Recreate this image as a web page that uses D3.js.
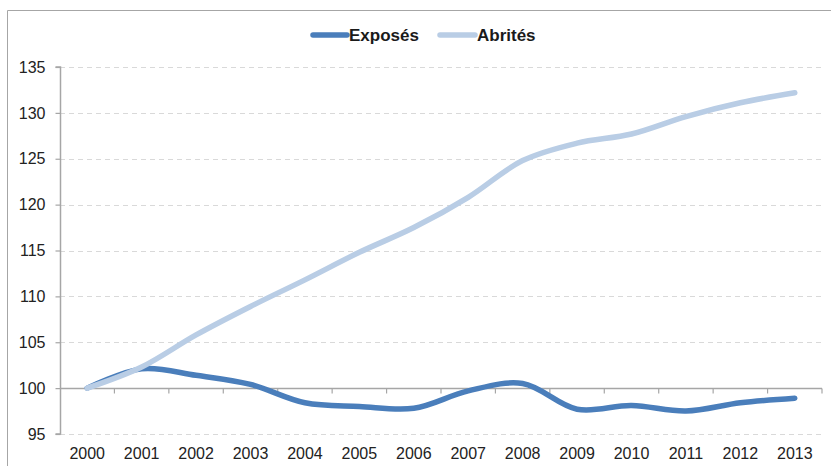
<!DOCTYPE html>
<html>
<head>
<meta charset="utf-8">
<script src="https://cdn.jsdelivr.net/npm/d3@7"></script>
<style>
  html, body { margin: 0; padding: 0; background: #fff; }
  svg { display: block; font-family: "Liberation Sans", Arial, sans-serif; }
</style>
</head>
<body>
<svg id="chart" width="831" height="466"></svg>
<script>
const years = ["2000","2001","2002","2003","2004","2005","2006","2007","2008","2009","2010","2011","2012","2013"];
const exposes = [100, 102.1, 101.4, 100.4, 98.4, 98.0, 97.8, 99.7, 100.5, 97.7, 98.1, 97.5, 98.4, 98.9];
const abrites = [100, 102.3, 105.8, 108.9, 111.8, 114.8, 117.5, 120.8, 124.8, 126.7, 127.7, 129.6, 131.1, 132.2];
const yTicks = [95, 100, 105, 110, 115, 120, 125, 130, 135];
const seriesNames = ["Exposés", "Abrités"];

(function () {
const svg = d3.select("#chart");
const W = 831, H = 466;
const pLeft = 60, pRight = 822, pTop = 67, pBottom = 434;

// frame
svg.append("path")
  .attr("d", `M7.5,${H} V10.5 H${W}`)
  .attr("fill", "none").attr("stroke", "#a6a6a6").attr("stroke-width", 1);

const x = d3.scaleBand().domain(years).range([pLeft, pRight]).paddingInner(0).paddingOuter(0);
const y = d3.scaleLinear().domain([95, 135]).range([pBottom, pTop]);

// gridlines
svg.append("g").selectAll("line").data(yTicks).join("line")
  .attr("x1", pLeft).attr("x2", pRight)
  .attr("y1", d => Math.round(y(d)) + 0.5).attr("y2", d => Math.round(y(d)) + 0.5)
  .attr("stroke", "#d9d9d9").attr("stroke-width", 1).attr("stroke-dasharray", "5,4");

// y axis
const yAxis = d3.axisLeft(y).tickValues(yTicks).tickSize(5).tickPadding(10).tickFormat(d3.format("d"));
const gy = svg.append("g").attr("transform", `translate(${pLeft + 0.5},0)`).call(yAxis);
gy.select(".domain").attr("stroke", "#a6a6a6").attr("stroke-width", 1.5).attr("d", `M-5,${y(135)}H0V${y(95)}H-5`);
gy.selectAll(".tick line").attr("stroke", "#a6a6a6").attr("stroke-width", 1.2);
gy.selectAll(".tick text").attr("fill", "#222").style("font-size", "16px");

// x axis at value 100
const y100 = Math.round(y(100)) + 0.5;
const gx = svg.append("g").attr("transform", `translate(0,${y100})`);
gx.append("line").attr("x1", pLeft).attr("x2", pRight).attr("y1", 0).attr("y2", 0)
  .attr("stroke", "#a6a6a6").attr("stroke-width", 1.5);
const bounds = years.map(d => x(d)).concat([pRight]).slice(1);
gx.selectAll("line.tk").data(bounds).join("line").attr("class", "tk")
  .attr("x1", d => d).attr("x2", d => d).attr("y1", 0).attr("y2", 5)
  .attr("stroke", "#a6a6a6").attr("stroke-width", 1.2);

// x labels at bottom
svg.append("g").selectAll("text").data(years).join("text")
  .attr("x", d => x(d) + x.bandwidth() / 2)
  .attr("y", 459)
  .attr("text-anchor", "middle")
  .attr("fill", "#222").style("font-size", "16px")
  .text(d => d);

// lines
const line = d3.line()
  .x((d, i) => x(years[i]) + x.bandwidth() / 2)
  .y(d => y(d))
  .curve(d3.curveCatmullRom.alpha(0.5));

const colors = { "Exposés": "#4a7ebb", "Abrités": "#b9cde5" };

svg.append("path").datum(exposes).attr("d", line)
  .attr("fill", "none").attr("stroke", colors["Exposés"]).attr("stroke-width", 5.5)
  .attr("stroke-linecap", "round").attr("stroke-linejoin", "round");
svg.append("path").datum(abrites).attr("d", line)
  .attr("fill", "none").attr("stroke", colors["Abrités"]).attr("stroke-width", 5.5)
  .attr("stroke-linecap", "round").attr("stroke-linejoin", "round");

// legend
const legend = svg.append("g");
const legendItems = [
  { name: seriesNames[0], x0: 313, x1: 347, tx: 349 },
  { name: seriesNames[1], x0: 440, x1: 475, tx: 477 }
];
legendItems.forEach(it => {
  legend.append("line").attr("x1", it.x0).attr("x2", it.x1).attr("y1", 35).attr("y2", 35)
    .attr("stroke", colors[it.name]).attr("stroke-width", 5.5).attr("stroke-linecap", "round");
  legend.append("text").attr("x", it.tx).attr("y", 41)
    .attr("fill", "#1a1a1a").style("font-size", "17px").style("font-weight", "bold")
    .text(it.name);
});
})();
</script>
</body>
</html>
